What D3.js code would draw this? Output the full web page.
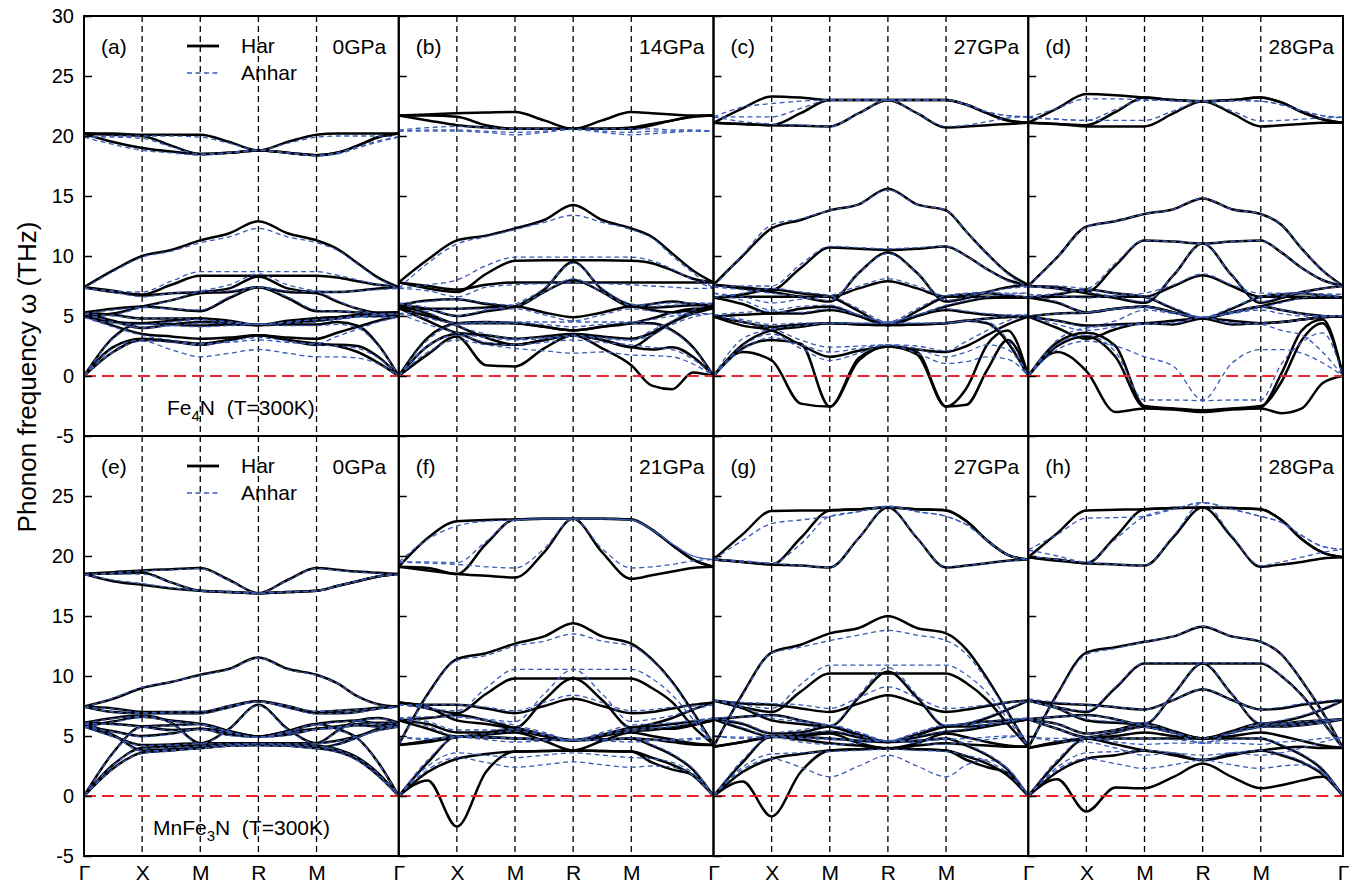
<!DOCTYPE html>
<html><head><meta charset="utf-8">
<script src="https://cdn.jsdelivr.net/npm/d3@7"></script>
<style>body{margin:0;background:#fff}text{font-family:"Liberation Sans",Arial,sans-serif}</style>
</head><body><svg id="c" width="1360" height="884"></svg>
<script>
// k-path sample positions (units of 2π/a): Γ .25 X .75 M 1.25 R 1.75 M ... Γ
const kpath=[0,0.25,0.5,0.75,1,1.25,1.5,1.75,2,2.1768,2.3536,2.5303,2.7071];
const symPoints=[0,0.5,1,1.5,2,2.7071];
const symLabels=["Γ","X","M","R","M","Γ"];
const yTickValues=[30,25,20,15,10,5,0,-5];
const panelLabels=["(a)","(b)","(c)","(d)","(e)","(f)","(g)","(h)"];
const pressures=["0GPa","14GPa","27GPa","28GPa","0GPa","21GPa","27GPa","28GPa"];
const seriesNames=["Har","Anhar"];

// ---- Fe4N ----
const harA=[
[20.2,20.2,20.1,20.1,20.1,19.5,18.8,19.5,20.1,20.2,20.2,20.2,20.2],
[20.2,20.1,20.0,19.2,18.5,18.6,18.8,18.6,18.4,18.6,19.2,19.9,20.2],
[20.2,19.5,19.0,18.7,18.5,18.6,18.8,18.6,18.4,18.6,19.2,19.9,20.2],
[7.4,8.8,10.0,10.5,11.3,11.9,12.9,11.9,11.3,10.6,9.4,8.2,7.4],
[7.4,7.0,6.8,7.6,8.35,8.35,8.35,8.35,8.35,8.2,7.9,7.6,7.4],
[7.4,7.1,6.7,6.9,7.0,7.3,8.3,7.3,7.0,7.0,7.1,7.3,7.4],
[5.3,5.6,5.8,5.6,5.4,6.5,7.4,6.5,5.4,5.4,5.3,5.3,5.3],
[5.3,5.1,4.8,4.8,4.8,4.5,4.25,4.5,4.8,4.9,5.1,5.2,5.3],
[5.3,4.6,4.0,4.3,4.5,4.4,4.25,4.4,4.6,4.8,5.0,5.2,5.3],
[5.0,5.2,5.8,6.3,6.9,7.0,7.4,7.0,6.9,6.2,5.6,5.2,5.0],
[5.0,4.2,3.5,3.3,3.1,3.2,3.4,3.2,3.1,3.6,4.1,4.6,5.0],
[5.0,4.5,4.4,4.6,4.8,4.6,4.25,4.6,4.8,4.9,5.0,5.0,5.0],
[0,2.0,3.0,2.9,2.7,3.0,3.4,3.0,2.7,2.5,2.0,1.1,0],
[0,2.4,3.1,2.9,2.6,3.0,3.4,3.0,2.6,2.6,2.5,1.6,0],
[0,3.2,4.4,4.3,4.2,4.3,4.25,4.3,4.3,4.5,4.2,2.6,0]];
const anhA=[
[19.9,20.0,20.0,20.0,19.9,19.4,18.8,19.4,19.9,20.0,20.0,20.0,19.9],
[19.9,19.9,19.8,19.1,18.5,18.6,18.8,18.6,18.4,18.6,19.1,19.6,19.9],
[19.9,19.3,18.8,18.6,18.4,18.6,18.8,18.6,18.35,18.5,19.0,19.5,19.9],
[7.3,8.7,9.9,10.4,11.1,11.6,12.3,11.6,11.1,10.5,9.3,8.1,7.3],
[7.3,7.1,7.0,7.9,8.7,8.7,8.7,8.7,8.7,8.4,8.0,7.6,7.3],
[7.3,7.0,6.6,6.9,7.1,7.6,8.5,7.6,7.1,7.0,7.1,7.2,7.3],
[5.2,5.5,5.7,5.6,5.5,6.6,7.4,6.6,5.5,5.4,5.3,5.2,5.2],
[5.2,5.0,4.8,4.8,4.7,4.5,4.3,4.5,4.7,4.8,5.0,5.1,5.2],
[5.2,4.5,4.0,4.2,4.4,4.4,4.3,4.4,4.5,4.7,4.9,5.1,5.2],
[4.9,5.1,5.7,6.3,7.0,7.1,7.4,7.1,7.0,6.3,5.6,5.1,4.9],
[4.9,4.1,3.4,3.0,2.7,2.8,3.0,2.8,2.7,3.3,3.9,4.5,4.9],
[4.9,4.4,4.3,4.5,4.7,4.5,4.3,4.5,4.7,4.8,4.9,4.9,4.9],
[0,2.0,2.9,2.2,1.6,1.9,2.2,1.9,1.6,1.6,1.5,1.0,0],
[0,2.3,3.0,2.8,2.6,2.9,3.2,2.9,2.6,2.5,2.3,1.5,0],
[0,3.1,4.3,4.2,4.1,4.2,4.3,4.2,4.2,4.3,4.0,2.5,0]];
const harB=[
[21.7,21.8,21.9,21.95,22.0,21.3,20.6,21.3,22.0,21.9,21.8,21.7,21.7],
[21.7,21.7,21.6,20.9,20.6,20.6,20.6,20.6,20.7,21.0,21.3,21.6,21.7],
[21.7,21.3,20.9,20.7,20.6,20.6,20.6,20.6,20.6,20.9,21.3,21.6,21.7],
[7.8,9.7,11.3,11.7,12.3,13.0,14.25,13.0,12.3,11.6,10.2,8.8,7.8],
[7.8,7.3,7.0,8.5,9.6,9.65,9.65,9.65,9.6,9.4,8.8,8.1,7.8],
[7.8,7.5,7.2,7.6,7.8,7.8,7.8,7.8,7.8,7.8,7.8,7.8,7.8],
[5.9,6.3,6.4,6.0,5.8,7.0,8.0,7.0,5.8,6.0,6.2,6.0,5.9],
[5.9,5.6,5.0,5.4,5.8,7.2,9.5,7.2,5.9,5.7,5.8,5.9,5.9],
[5.65,5.0,4.4,4.4,4.4,4.1,3.8,4.1,4.4,4.8,5.3,5.6,5.65],
[5.65,5.6,5.6,5.7,5.8,5.3,4.9,5.3,5.8,5.5,5.3,5.5,5.65],
[5.65,4.6,3.6,3.4,3.1,3.3,3.5,3.3,3.1,3.6,4.5,5.2,5.65],
[5.9,5.2,4.2,3.2,2.6,3.0,3.4,3.0,2.4,3.4,4.5,5.4,5.9],
[0,1.8,3.3,0.9,0.8,2.3,3.4,2.3,0.9,-0.8,-1.1,0.3,0],
[0,2.5,3.5,2.7,2.6,3.0,3.4,3.0,2.4,2.2,2.4,1.6,0],
[0,3.2,4.4,4.5,4.4,4.1,3.8,4.1,4.4,4.4,3.8,2.4,0]];
const anhB=[
[20.5,20.7,20.8,20.7,20.6,20.6,20.55,20.6,20.6,20.6,20.5,20.5,20.4],
[20.4,20.5,20.5,20.4,20.3,20.4,20.55,20.4,20.3,20.4,20.4,20.4,20.4],
[20.4,20.4,20.4,20.3,20.1,20.3,20.55,20.3,20.1,20.2,20.3,20.4,20.4],
[7.3,9.4,11.0,11.6,12.2,12.8,13.4,12.8,12.2,11.5,10.0,8.6,7.3],
[7.3,7.6,8.0,9.2,9.9,9.9,9.9,9.9,9.9,9.6,8.9,8.0,7.3],
[7.3,7.1,6.6,7.4,7.6,7.7,7.8,7.7,7.6,7.5,7.4,7.3,7.3],
[6.05,6.2,6.4,6.1,5.9,7.0,8.1,7.0,5.9,6.0,6.1,6.1,6.05],
[6.05,5.7,5.0,5.5,6.0,7.3,9.4,7.3,6.0,5.8,5.9,6.0,6.05],
[5.2,4.8,4.4,4.5,4.5,4.5,4.5,4.5,4.5,4.7,5.0,5.1,5.2],
[5.2,5.4,5.6,5.6,5.6,5.1,4.6,5.1,5.6,5.4,5.2,5.2,5.2],
[5.2,4.3,3.6,3.2,3.0,3.1,3.3,3.1,3.0,3.4,4.3,4.9,5.2],
[6.05,5.3,4.2,3.5,3.1,3.2,3.4,3.2,3.0,3.8,4.6,5.5,6.05],
[0,2.0,3.0,2.6,2.3,2.1,1.9,2.0,1.75,1.7,1.6,1.0,0],
[0,2.5,3.4,2.8,2.6,2.8,3.0,2.8,2.6,2.4,2.2,1.4,0],
[0,3.0,4.3,4.4,4.4,4.3,4.1,4.3,4.4,4.3,3.7,2.3,0]];
const harC=[
[21.1,22.3,23.3,23.2,23.0,23.0,23.0,23.0,23.0,22.6,21.9,21.3,21.1],
[21.1,21.0,20.9,21.9,23.0,23.0,23.0,23.0,23.0,22.6,21.9,21.3,21.1],
[21.1,21.0,20.9,20.85,20.8,21.9,23.0,21.9,20.7,20.8,20.9,21.0,21.1],
[7.6,10.0,12.3,13.0,13.8,14.3,15.6,14.3,13.8,12.0,10.2,8.6,7.6],
[7.6,7.4,7.2,9.0,10.7,10.6,10.5,10.6,10.8,10.0,8.9,8.0,7.6],
[7.6,7.3,7.0,6.6,6.2,8.6,10.3,8.6,6.2,6.5,7.0,7.4,7.6],
[6.55,6.6,6.6,6.6,6.6,7.3,7.9,7.3,6.6,6.6,6.6,6.55,6.55],
[6.55,6.0,5.2,5.6,5.8,5.0,4.25,5.0,5.8,6.2,6.5,6.55,6.55],
[6.55,6.8,7.2,6.9,6.6,5.4,4.25,5.4,6.6,6.8,6.9,6.7,6.55],
[4.95,4.5,4.1,4.3,4.4,4.3,4.25,4.3,4.4,4.6,4.8,4.9,4.95],
[4.95,4.2,3.8,2.6,1.6,2.1,2.45,2.2,2.0,2.5,3.4,4.3,4.95],
[4.95,5.1,5.2,5.2,5.5,5.0,4.25,5.0,5.5,5.3,5.1,5.0,4.95],
[0,2.0,1.3,-2.3,-2.55,1.5,2.45,1.8,-2.55,-2.4,0.5,3.0,0],
[0,2.3,3.0,2.7,-2.55,1.3,2.45,2.0,-2.55,-1.0,2.6,3.8,0],
[0,2.6,3.8,4.1,4.4,4.3,4.25,4.3,4.4,4.6,4.4,2.8,0]];
const anhC=[
[21.6,22.4,22.7,22.9,23.0,23.0,23.0,23.0,23.0,22.6,22.0,21.7,21.6],
[21.6,21.6,21.6,22.3,23.0,23.0,23.0,23.0,23.0,22.6,22.0,21.7,21.6],
[21.6,21.2,21.0,20.9,20.8,21.9,23.0,21.9,20.8,20.9,21.2,21.5,21.6],
[7.4,10.1,12.6,13.1,13.8,14.3,15.5,14.3,13.8,12.0,10.2,8.5,7.4],
[7.4,7.5,7.5,9.3,10.8,10.7,10.6,10.7,10.8,10.0,8.9,7.9,7.4],
[7.4,7.2,6.9,6.6,6.3,8.6,10.2,8.6,6.3,6.6,7.0,7.3,7.4],
[6.9,6.6,6.1,6.4,6.7,7.5,8.1,7.5,6.7,6.8,6.9,6.9,6.9],
[6.9,6.3,5.5,5.8,5.9,5.1,4.5,5.1,5.9,6.3,6.6,6.8,6.9],
[6.55,6.9,7.3,7.0,6.7,5.6,4.5,5.6,6.7,6.9,7.0,6.8,6.55],
[5.1,4.7,4.3,4.4,4.4,4.4,4.4,4.4,4.4,4.6,4.8,5.0,5.1],
[5.1,4.5,4.0,3.0,2.4,2.5,2.6,2.5,2.1,2.9,3.8,4.6,5.1],
[5.1,5.3,5.4,5.3,5.6,5.1,4.5,5.1,5.6,5.4,5.2,5.1,5.1],
[0,2.5,3.5,2.3,1.3,1.9,2.6,1.9,1.05,1.2,1.6,1.4,0],
[0,2.2,3.2,2.6,2.0,2.3,2.6,2.3,1.6,2.0,2.6,2.2,0],
[0,3.1,3.9,4.2,4.4,4.4,4.4,4.4,4.4,4.6,4.5,3.0,0]];
const harD=[
[21.1,22.3,23.5,23.4,23.2,23.0,22.9,23.0,23.2,22.8,22.0,21.4,21.1],
[21.1,21.0,20.9,22.0,23.2,23.0,22.9,23.0,23.2,22.8,22.0,21.4,21.1],
[21.1,21.0,20.8,20.8,20.8,21.9,22.9,21.9,20.8,20.9,21.0,21.1,21.1],
[7.5,9.9,12.45,12.9,13.5,13.9,14.8,13.9,13.5,12.6,10.6,8.8,7.5],
[7.5,7.4,7.0,9.2,11.3,11.2,11.05,11.2,11.3,10.3,9.0,8.0,7.5],
[7.5,7.3,6.9,6.5,6.1,8.4,11.05,8.4,6.1,6.5,7.0,7.3,7.5],
[6.55,6.6,6.6,6.6,6.6,7.5,8.4,7.5,6.6,6.6,6.6,6.55,6.55],
[6.55,6.1,5.3,5.6,5.8,5.3,4.8,5.3,5.8,6.2,6.5,6.55,6.55],
[6.55,6.8,7.2,6.9,6.6,5.6,4.8,5.6,6.6,6.8,6.9,6.7,6.55],
[4.95,4.6,4.2,4.3,4.4,4.6,4.8,4.6,4.4,4.5,4.7,4.9,4.95],
[4.95,4.0,3.1,3.9,4.4,4.3,4.8,4.3,4.4,4.5,4.7,4.9,4.95],
[4.95,5.2,5.3,5.6,5.8,5.3,4.8,5.3,5.8,5.5,5.2,5.0,4.95],
[0,2.0,0.4,-3.0,-2.7,-2.8,-3.0,-2.8,-2.7,-3.1,-2.7,-0.6,0],
[0,2.5,3.3,1.6,-2.6,-2.75,-2.9,-2.75,-2.6,0.2,3.8,4.7,0],
[0,2.8,3.6,2.5,-2.5,-2.7,-2.85,-2.7,-2.5,-0.5,3.0,4.4,0]];
const anhD=[
[21.55,22.3,23.1,23.1,23.0,22.95,22.9,22.95,22.9,22.6,22.1,21.7,21.55],
[21.55,21.4,21.3,22.2,23.0,22.95,22.9,22.95,22.9,22.6,22.1,21.7,21.55],
[21.55,21.4,21.3,21.3,21.3,22.1,22.9,22.1,21.25,21.3,21.4,21.5,21.55],
[7.45,9.9,12.4,12.9,13.5,13.9,14.8,13.9,13.5,12.6,10.6,8.8,7.45],
[7.45,7.5,7.3,9.4,11.3,11.2,11.05,11.2,11.3,10.3,9.0,8.0,7.45],
[7.45,7.3,7.0,6.6,6.2,8.4,11.05,8.4,6.2,6.6,7.0,7.3,7.45],
[6.8,6.7,6.5,6.7,6.9,7.6,8.5,7.6,6.9,6.9,6.9,6.85,6.8],
[6.8,6.2,5.3,5.6,5.7,5.3,4.9,5.3,5.7,6.1,6.5,6.7,6.8],
[6.55,6.9,7.2,6.9,6.6,5.7,4.9,5.7,6.6,6.8,6.9,6.7,6.55],
[5.0,4.6,4.1,4.6,5.5,5.2,4.9,5.2,5.5,5.2,5.0,5.0,5.0],
[5.0,4.3,3.8,4.1,4.4,4.4,4.9,4.4,4.4,4.5,4.7,4.9,5.0],
[5.0,5.2,5.3,5.6,5.8,5.3,4.9,5.3,5.8,5.5,5.2,5.0,5.0],
[0,2.2,2.9,2.5,1.6,0.8,-2.0,1.05,2.2,2.2,1.9,1.1,0],
[0,2.6,3.4,2.0,-2.0,-2.0,-2.05,-2.0,-2.0,1.0,2.8,3.6,0],
[0,3.0,4.0,4.2,4.3,4.4,4.9,4.4,4.3,3.8,3.4,2.0,0]];
// ---- MnFe3N ----
const harE=[
[18.5,18.65,18.8,18.9,19.0,18.0,16.9,18.0,19.0,18.85,18.7,18.6,18.5],
[18.5,18.55,18.6,17.8,17.1,17.0,16.9,17.0,17.1,17.5,17.9,18.3,18.5],
[18.5,17.9,17.6,17.3,17.1,17.0,16.9,17.0,17.1,17.5,17.9,18.3,18.5],
[7.45,8.1,9.0,9.5,10.1,10.6,11.55,10.6,10.1,9.4,8.3,7.65,7.45],
[7.45,7.3,7.0,7.0,7.0,7.5,7.9,7.5,7.0,7.1,7.2,7.35,7.45],
[7.45,7.0,6.9,6.9,6.9,7.4,7.9,7.4,6.9,6.9,7.0,7.3,7.45],
[6.1,6.5,6.7,6.1,4.4,5.6,7.6,5.6,4.4,5.4,6.3,6.5,6.1],
[6.1,6.0,5.8,5.5,5.6,5.1,4.95,5.1,5.6,5.8,6.0,6.1,6.1],
[5.8,5.4,5.0,5.2,5.6,5.3,4.95,5.3,5.6,5.7,5.9,5.8,5.8],
[5.8,5.0,4.25,4.3,4.4,4.4,4.4,4.4,4.4,4.6,5.0,5.5,5.8],
[6.1,5.1,3.8,3.9,4.0,4.2,4.25,4.2,4.0,4.3,4.9,5.6,6.1],
[5.8,6.2,6.6,6.3,6.0,5.4,4.95,5.4,6.0,6.2,6.3,6.0,5.8],
[0,2.3,3.6,3.8,4.0,4.2,4.25,4.2,4.0,3.7,3.0,1.7,0],
[0,2.6,4.0,4.1,4.2,4.3,4.4,4.3,4.2,3.9,3.2,1.9,0],
[0,3.6,5.8,5.9,6.0,5.4,4.95,5.4,6.0,5.6,4.8,2.8,0]];
const anhE=[
[18.45,18.6,18.75,18.85,18.95,17.95,16.9,17.95,18.95,18.8,18.65,18.55,18.45],
[18.45,18.5,18.5,17.8,17.1,17.0,16.9,17.0,17.1,17.5,17.9,18.3,18.45],
[18.45,18.0,17.7,17.35,17.1,17.0,16.9,17.0,17.1,17.5,17.9,18.3,18.45],
[7.4,8.15,9.05,9.5,10.05,10.55,11.5,10.55,10.05,9.4,8.3,7.6,7.4],
[7.4,7.25,6.95,7.0,7.05,7.5,7.85,7.5,7.05,7.1,7.2,7.3,7.4],
[7.4,7.0,6.85,6.85,6.85,7.35,7.85,7.35,6.85,6.9,7.0,7.25,7.4],
[6.05,6.45,6.65,6.05,4.35,5.55,7.55,5.55,4.35,5.35,6.25,6.45,6.05],
[6.05,5.95,5.75,5.45,5.55,5.05,4.9,5.05,5.55,5.75,5.95,6.05,6.05],
[5.75,5.35,4.95,5.15,5.55,5.25,4.9,5.25,5.55,5.65,5.85,5.75,5.75],
[5.75,4.95,4.2,4.25,4.35,4.35,4.35,4.35,4.35,4.55,4.95,5.45,5.75],
[6.05,5.05,3.75,3.85,3.95,4.15,4.2,4.15,3.95,4.25,4.85,5.55,6.05],
[5.75,6.15,6.55,6.25,5.95,5.35,4.9,5.35,5.95,6.15,6.25,5.95,5.75],
[0,2.25,3.55,3.75,3.95,4.15,4.2,4.15,3.95,3.65,2.95,1.65,0],
[0,2.55,3.95,4.05,4.15,4.25,4.35,4.25,4.15,3.85,3.15,1.85,0],
[0,3.55,5.75,5.85,5.95,5.35,4.9,5.35,5.95,5.55,4.75,2.75,0]];
const harF=[
[19.1,21.5,22.9,23.0,23.05,23.1,23.1,23.1,23.05,22.2,20.9,19.7,19.1],
[19.1,19.0,18.5,21.0,23.05,23.1,23.1,23.1,23.05,22.2,20.9,19.7,19.1],
[19.1,18.8,18.5,18.35,18.2,20.3,23.1,20.3,18.1,18.4,18.7,19.0,19.1],
[4.3,8.5,11.4,11.9,12.7,13.3,14.4,13.3,12.7,11.4,9.5,7.0,4.3],
[7.8,7.3,6.9,8.5,9.8,9.8,9.8,9.8,9.8,9.0,7.8,5.8,4.3],
[7.8,7.4,6.3,6.0,5.7,8.0,9.8,8.0,5.7,6.0,6.5,7.2,7.8],
[7.8,7.6,7.6,7.3,6.9,7.5,8.1,7.5,6.9,7.0,7.3,7.6,7.8],
[6.3,6.0,5.3,5.3,5.65,5.1,4.65,5.1,5.65,5.6,5.6,5.9,6.3],
[6.3,5.6,4.95,5.2,5.4,5.0,4.65,5.0,5.4,5.5,5.7,6.0,6.3],
[4.25,4.6,4.95,4.9,4.8,4.7,4.65,4.7,4.8,4.7,4.5,4.3,4.25],
[4.25,4.5,4.9,5.1,5.3,4.6,3.8,4.6,5.3,5.0,4.7,4.4,4.25],
[6.3,6.5,6.75,6.3,5.65,5.0,4.65,5.0,5.65,5.8,6.0,6.2,6.3],
[0,1.3,-2.55,2.0,3.7,3.75,3.8,3.75,3.7,2.8,2.2,1.75,0],
[0,2.0,3.1,3.5,3.7,3.75,3.8,3.75,3.7,3.2,2.6,1.7,0],
[0,2.8,4.95,4.9,4.8,4.7,4.65,4.7,4.8,4.2,3.4,2.2,0]];
const anhF=[
[19.5,21.4,22.5,22.9,23.0,23.1,23.1,23.1,23.0,22.2,21.0,20.0,19.7],
[19.5,19.5,19.45,21.2,23.0,23.1,23.1,23.1,23.0,22.2,21.0,20.0,19.7],
[19.5,19.4,19.3,19.1,19.0,20.6,23.1,20.6,19.0,19.1,19.3,19.6,19.7],
[4.3,8.4,11.3,11.7,12.5,12.9,13.5,12.9,12.5,11.3,9.4,6.9,4.3],
[7.6,7.3,7.1,9.0,10.55,10.55,10.55,10.55,10.55,9.8,8.4,6.4,4.3],
[7.6,7.4,6.6,6.4,6.2,8.5,10.55,8.5,6.2,6.4,6.7,7.2,7.6],
[7.6,7.6,7.6,7.4,7.1,7.8,8.4,7.8,7.1,7.2,7.4,7.5,7.6],
[6.5,6.2,5.5,5.5,5.6,5.2,4.65,5.2,5.6,5.7,5.8,6.1,6.5],
[6.5,5.8,5.0,5.2,5.4,5.1,4.65,5.1,5.4,5.6,5.8,6.1,6.5],
[4.9,4.8,4.95,4.9,4.8,4.7,4.65,4.7,4.8,4.7,4.6,4.7,4.9],
[4.9,4.7,4.9,4.7,4.5,4.6,4.7,4.6,4.5,4.6,4.7,4.8,4.9],
[6.5,6.6,6.6,6.3,5.9,5.3,4.65,5.3,5.9,6.0,6.1,6.3,6.5],
[0,2.2,3.2,2.8,2.4,2.6,2.85,2.6,2.4,2.5,2.4,1.7,0],
[0,2.5,3.6,3.4,3.2,3.4,3.6,3.4,3.2,3.1,2.8,1.9,0],
[0,3.0,4.9,4.9,4.8,4.7,4.65,4.7,4.8,4.3,3.5,2.3,0]];
const harG=[
[19.7,21.8,23.75,23.8,23.8,23.9,24.05,23.9,23.8,22.9,21.3,20.1,19.7],
[19.7,19.5,19.3,21.5,23.8,23.9,24.05,23.9,23.8,22.9,21.3,20.1,19.7],
[19.7,19.5,19.3,19.2,19.05,21.5,24.05,21.5,19.05,19.2,19.4,19.6,19.7],
[4.1,8.5,11.95,12.6,13.55,14.0,15.0,14.0,13.55,12.2,9.8,7.0,4.1],
[7.95,7.4,7.0,8.7,10.2,10.2,10.2,10.2,10.2,9.4,8.0,6.0,4.1],
[7.95,7.3,6.3,6.0,5.8,8.2,10.35,8.2,5.8,6.0,6.5,7.2,7.95],
[7.95,7.7,7.6,7.3,7.0,7.7,8.4,7.7,7.0,7.2,7.5,7.8,7.95],
[6.4,6.0,5.2,5.3,5.8,5.1,4.5,5.1,5.8,5.8,5.9,6.1,6.4],
[6.4,5.6,4.95,5.1,5.35,4.9,4.5,4.9,5.35,5.5,5.8,6.1,6.4],
[4.1,4.5,4.95,4.7,4.4,4.2,3.97,4.2,4.4,4.3,4.2,4.1,4.1],
[4.1,4.5,4.9,5.0,5.2,4.4,3.97,4.4,5.2,4.9,4.5,4.2,4.1],
[6.4,6.6,6.75,6.3,5.8,5.1,4.5,5.1,5.8,6.0,6.2,6.3,6.4],
[0,1.2,-1.7,2.0,3.8,3.9,3.97,3.9,3.8,3.0,2.4,1.9,0],
[0,2.0,3.1,3.5,3.8,3.9,3.97,3.9,3.8,3.3,2.7,1.7,0],
[0,2.8,4.95,4.9,4.8,4.6,4.5,4.6,4.8,4.2,3.4,2.2,0]];
const anhG=[
[19.7,21.3,22.7,23.0,23.3,23.7,24.15,23.7,23.3,22.6,21.3,20.1,19.7],
[19.7,19.6,19.4,21.0,23.3,23.7,24.15,23.7,23.3,22.6,21.3,20.1,19.7],
[19.7,19.5,19.4,19.2,19.05,21.5,24.15,21.5,19.1,19.2,19.4,19.6,19.7],
[4.1,8.4,11.9,12.4,12.95,13.4,13.8,13.4,12.95,11.8,9.6,6.9,4.1],
[7.95,7.6,7.3,9.3,10.9,10.9,10.9,10.9,10.9,10.1,8.6,6.4,4.1],
[7.95,7.4,6.5,6.2,5.9,8.4,10.7,8.4,5.9,6.1,6.6,7.3,7.95],
[7.95,7.8,7.7,7.6,7.3,8.2,9.1,8.2,7.3,7.4,7.6,7.8,7.95],
[6.5,6.1,5.3,5.5,5.9,5.3,4.6,5.3,5.9,5.9,6.0,6.2,6.5],
[6.5,5.7,5.0,5.2,5.4,5.0,4.6,5.0,5.4,5.6,5.9,6.2,6.5],
[5.0,4.9,4.95,4.8,4.7,4.6,4.6,4.6,4.7,4.8,4.9,5.0,5.0],
[5.0,4.8,4.9,4.5,4.3,4.4,4.6,4.4,4.3,4.5,4.7,4.9,5.0],
[6.5,6.6,6.7,6.3,5.9,5.3,4.6,5.3,5.9,6.0,6.2,6.4,6.5],
[0,2.2,3.1,2.4,1.6,2.5,3.4,2.5,1.6,2.6,3.0,2.3,0],
[0,2.4,3.5,3.6,3.7,3.8,3.9,3.8,3.7,3.4,2.9,1.9,0],
[0,3.0,4.95,4.9,4.8,4.7,4.6,4.7,4.8,4.3,3.5,2.3,0]];
const harH=[
[19.9,21.9,23.8,23.85,23.9,24.0,24.05,24.0,23.9,23.0,21.4,20.3,19.9],
[19.9,19.7,19.4,21.6,23.9,24.0,24.05,24.0,23.9,23.0,21.4,20.3,19.9],
[19.9,19.6,19.4,19.3,19.2,21.6,24.05,21.6,19.1,19.3,19.5,19.8,19.9],
[4.0,8.5,11.95,12.4,12.85,13.3,14.1,13.3,12.85,11.8,9.6,7.0,4.0],
[7.95,7.4,7.0,9.0,11.05,11.05,11.05,11.05,11.05,10.0,8.4,6.2,4.0],
[7.95,7.3,6.3,6.1,6.0,8.5,11.05,8.5,6.0,6.2,6.6,7.2,7.95],
[7.95,7.7,7.6,7.4,7.2,8.0,8.9,8.0,7.2,7.3,7.6,7.8,7.95],
[6.4,6.0,5.2,5.5,6.05,5.4,4.8,5.4,6.05,6.0,6.0,6.2,6.4],
[6.4,5.6,4.9,5.3,5.8,5.3,4.8,5.3,5.8,5.8,5.9,6.1,6.4],
[4.0,4.5,4.8,4.3,3.8,3.5,3.0,3.5,3.8,4.0,4.1,4.0,4.0],
[4.0,4.4,4.8,5.0,5.3,5.0,4.8,5.0,5.3,5.0,4.6,4.2,4.0],
[6.4,6.6,6.75,6.4,5.8,5.3,4.8,5.3,5.8,6.0,6.2,6.3,6.4],
[0,1.4,-1.3,0.7,0.64,1.6,2.7,1.6,0.64,0.9,1.3,1.6,0],
[0,2.0,3.1,3.4,3.8,3.4,3.0,3.4,3.8,3.4,2.8,1.8,0],
[0,2.8,4.8,4.8,4.8,4.8,4.8,4.8,4.8,4.2,3.4,2.2,0]];
const anhH=[
[20.5,21.8,23.15,23.2,23.3,23.9,24.45,23.9,23.3,22.8,21.7,20.8,20.55],
[20.5,20.0,19.5,21.4,23.3,23.9,24.45,23.9,23.3,22.8,21.7,20.8,20.55],
[20.0,19.7,19.45,19.3,19.2,21.7,24.45,21.7,19.2,19.5,19.9,20.3,20.55],
[4.0,8.4,11.8,12.3,12.85,13.3,14.15,13.3,12.85,11.8,9.6,7.0,4.0],
[7.95,7.4,7.1,9.1,11.1,11.1,11.1,11.1,11.1,10.0,8.4,6.2,4.0],
[7.95,7.3,6.4,6.2,6.1,8.5,11.1,8.5,6.1,6.3,6.7,7.3,7.95],
[8.1,7.8,7.6,7.4,7.2,8.0,8.9,8.0,7.2,7.4,7.7,7.9,8.1],
[6.4,6.0,5.2,5.5,6.0,5.3,4.4,5.3,6.0,6.0,6.0,6.2,6.4],
[6.4,5.6,4.9,5.3,5.7,5.2,4.4,5.2,5.7,5.8,5.9,6.1,6.4],
[4.9,4.8,4.8,4.5,4.3,4.4,4.4,4.4,4.3,4.5,4.6,4.8,4.9],
[4.9,4.6,4.5,4.0,3.4,3.6,3.0,3.6,3.4,3.6,4.0,4.5,4.9],
[6.4,6.6,6.7,6.4,5.8,5.3,4.8,5.3,5.8,6.0,6.2,6.3,6.4],
[0,2.2,3.1,2.7,2.3,2.6,3.0,2.6,2.3,2.5,2.6,2.0,0],
[0,2.4,3.6,3.7,3.8,3.6,3.4,3.6,3.8,3.5,2.9,1.9,0],
[0,3.0,4.8,4.8,4.8,4.7,4.5,4.7,4.8,4.3,3.5,2.3,0]];

const panels=[[harA,anhA],[harB,anhB],[harC,anhC],[harD,anhD],[harE,anhE],[harF,anhF],[harG,anhG],[harH,anhH]];

const svg=d3.select("#c");
const L=84,Rr=1343,T=16,PH=420;
const PW=(Rr-L)/4;
const kmax=kpath[kpath.length-1];
const BLUE="#3a5bb5", RED="#e8262b";

panels.forEach((p,i)=>{
  const col=i%4,row=Math.floor(i/4);
  const x0=L+col*PW,y0=T+row*PH;
  const x=d3.scaleLinear().domain([0,kmax]).range([x0,x0+PW]);
  const y=d3.scaleLinear().domain([-5,30]).range([y0+PH,y0]);
  const g=svg.append("g");
  svg.append("clipPath").attr("id","clip"+i).append("rect")
    .attr("x",x0).attr("y",y0).attr("width",PW).attr("height",PH);
  // vertical dashed lines at interior symmetry points
  g.selectAll("line.v").data(symPoints.slice(1,-1)).join("line")
    .attr("x1",d=>x(d)).attr("x2",d=>x(d)).attr("y1",y0).attr("y2",y0+PH)
    .attr("stroke","#000").attr("stroke-width",1.3).attr("stroke-dasharray","6,4");
  const line=d3.line().x((d,j)=>x(kpath[j])).y(d=>y(d)).curve(d3.curveMonotoneX);
  const cg=g.append("g").attr("clip-path","url(#clip"+i+")");
  cg.selectAll("path.h").data(p[0]).join("path")
    .attr("d",line).attr("fill","none").attr("stroke","#000").attr("stroke-width",2.5)
    .attr("stroke-linejoin","round");
  cg.selectAll("path.a").data(p[1]).join("path")
    .attr("d",line).attr("fill","none").attr("stroke",BLUE).attr("stroke-width",1.3)
    .attr("stroke-dasharray","5,3.5");
  // zero line
  g.append("line").attr("x1",x0).attr("x2",x0+PW).attr("y1",y(0)).attr("y2",y(0))
    .attr("stroke",RED).attr("stroke-width",2.2).attr("stroke-dasharray","12,6");
  // frame
  g.append("rect").attr("x",x0).attr("y",y0).attr("width",PW).attr("height",PH)
    .attr("fill","none").attr("stroke","#000").attr("stroke-width",2);
  // y axis (inward ticks)
  const tv=row===0?yTickValues:yTickValues.slice(1);
  const ax=d3.axisLeft(y).tickValues(tv).tickSize(-8).tickPadding(10)
    .tickFormat(d=>col===0?String(d):"");
  const ag=g.append("g").attr("transform",`translate(${x0},0)`).call(ax);
  ag.select(".domain").remove();
  ag.selectAll("line").attr("stroke","#000").attr("stroke-width",1.5);
  ag.selectAll("text").attr("font-size",20).attr("fill","#000")
    .attr("font-family","'Liberation Sans',Arial,sans-serif");
  // x axis labels bottom row
  if(row===1){
    const xa=d3.axisBottom(x).tickValues(symPoints).tickSize(0).tickPadding(9)
      .tickFormat((d,j)=>(col>0&&j===0)?"":symLabels[j]);
    const xg=g.append("g").attr("transform",`translate(0,${y0+PH})`).call(xa);
    xg.select(".domain").remove();
    xg.selectAll("text").attr("font-size",21).attr("fill","#000")
      .attr("font-family",(d,j)=>symLabels[j]==="Γ"?"'Liberation Serif','Times New Roman',serif":"'Liberation Sans',Arial,sans-serif");
  }
  // panel labels
  g.append("text").attr("x",x0+17).attr("y",y0+38).attr("font-size",21).text(panelLabels[i]);
  g.append("text").attr("x",x0+PW-(col===0?12.5:9)).attr("y",y0+38).attr("font-size",21)
    .attr("text-anchor","end").text(pressures[i]);
  if(col===0){
    // legend
    g.append("line").attr("x1",x0+103).attr("x2",x0+135).attr("y1",y0+30).attr("y2",y0+30)
      .attr("stroke","#000").attr("stroke-width",2.8);
    g.append("text").attr("x",x0+157).attr("y",y0+37).attr("font-size",21).text(seriesNames[0]);
    g.append("line").attr("x1",x0+103).attr("x2",x0+135).attr("y1",y0+57).attr("y2",y0+57)
      .attr("stroke",BLUE).attr("stroke-width",1.3).attr("stroke-dasharray","5,3.5");
    g.append("text").attr("x",x0+157).attr("y",y0+64).attr("font-size",21).text(seriesNames[1]);
    // compound label
    const t=g.append("text").attr("x",x0+(row===0?83:69)).attr("y",y0+399)
      .attr("font-size",21).style("white-space","pre");
    if(row===0){
      t.append("tspan").text("Fe");
      t.append("tspan").attr("font-size",15).attr("dy",6).text("4");
      t.append("tspan").attr("dy",-6).text("N  (T=300K)");
    } else {
      t.append("tspan").text("MnFe");
      t.append("tspan").attr("font-size",15).attr("dy",6).text("3");
      t.append("tspan").attr("dy",-6).text("N  (T=300K)");
    }
  }
});
// y axis title
svg.append("text").attr("transform","translate(27,377) rotate(-90)")
  .attr("text-anchor","middle").attr("dominant-baseline","central")
  .attr("font-size",26).text("Phonon frequency ω (THz)");
</script></body></html>
